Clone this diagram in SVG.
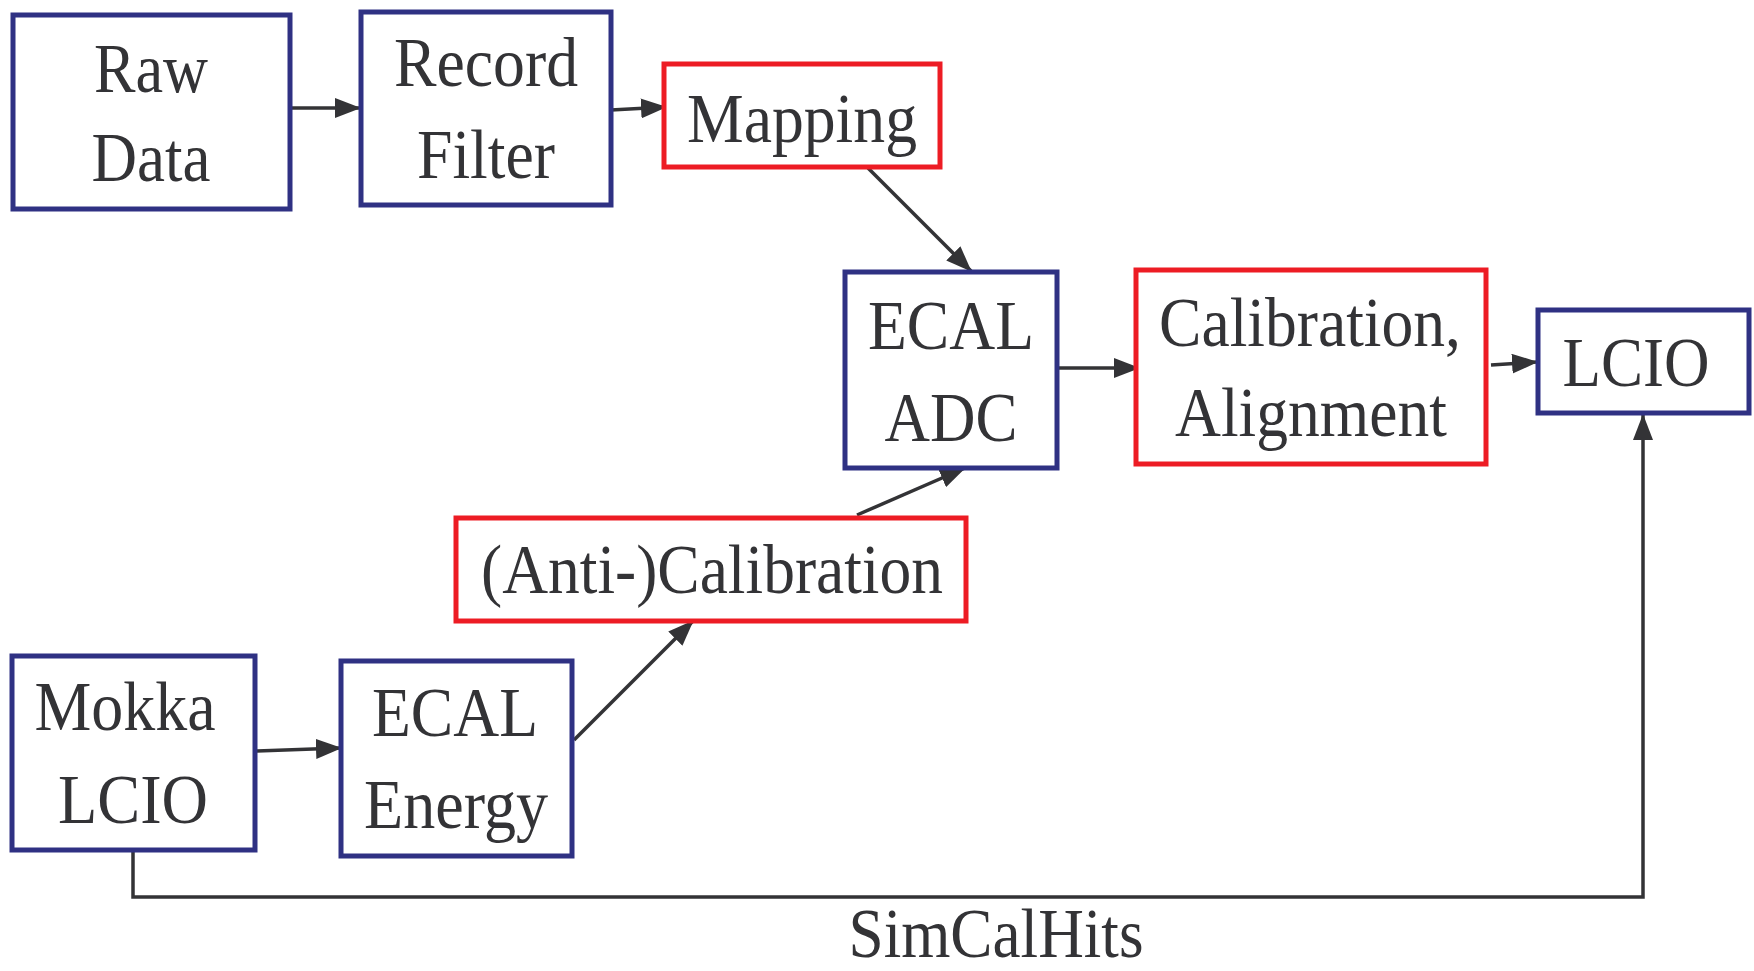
<svg xmlns="http://www.w3.org/2000/svg" width="1754" height="971" viewBox="0 0 1754 971">
<defs>
<style>
.b{fill:#fff;stroke:#2f3183;stroke-width:5}
.r{fill:#fff;stroke:#ed1c24;stroke-width:5}
.t{font-family:"Liberation Serif","Times New Roman",serif;font-size:70px;fill:#333336;text-anchor:middle}
.c{fill:none;stroke:#333336;stroke-width:3.5}
</style>
<marker id="ah" viewBox="0 0 26 20" refX="25" refY="10" markerWidth="26" markerHeight="20" markerUnits="userSpaceOnUse" orient="auto">
<path d="M0,0 L26,10 L0,20 Z" fill="#333336"/>
</marker>
</defs>
<rect width="1754" height="971" fill="#fff"/>
<g id="connectors">
<line class="c" x1="290" y1="108" x2="360" y2="108" marker-end="url(#ah)"/>
<line class="c" x1="611" y1="110" x2="666" y2="107" marker-end="url(#ah)"/>
<line class="c" x1="868" y1="168" x2="971" y2="271" marker-end="url(#ah)"/>
<line class="c" x1="1057" y1="368" x2="1139" y2="368" marker-end="url(#ah)"/>
<line class="c" x1="1491" y1="365" x2="1537" y2="362" marker-end="url(#ah)"/>
<line class="c" x1="857" y1="515" x2="965" y2="468" marker-end="url(#ah)"/>
<line class="c" x1="257" y1="751" x2="341" y2="748" marker-end="url(#ah)"/>
<line class="c" x1="574" y1="740" x2="693" y2="621" marker-end="url(#ah)"/>
<polyline class="c" points="133,850 133,897 1643,897 1643,415" marker-end="url(#ah)"/>
<text class="t" x="996" y="957" textLength="295" lengthAdjust="spacingAndGlyphs">SimCalHits</text>
</g>
<g id="raw-data">
<rect class="b" x="13" y="15" width="277" height="194"/>
<text class="t" x="151" y="92" textLength="114" lengthAdjust="spacingAndGlyphs">Raw</text>
<text class="t" x="151" y="181" textLength="119" lengthAdjust="spacingAndGlyphs">Data</text>
</g>
<g id="record-filter">
<rect class="b" x="361" y="12" width="250" height="193"/>
<text class="t" x="486" y="86" textLength="184" lengthAdjust="spacingAndGlyphs">Record</text>
<text class="t" x="486" y="178" textLength="138" lengthAdjust="spacingAndGlyphs">Filter</text>
</g>
<g id="mapping">
<rect class="r" x="664" y="64" width="276" height="103"/>
<text class="t" x="802" y="142" textLength="230" lengthAdjust="spacingAndGlyphs">Mapping</text>
</g>
<g id="ecal-adc">
<rect class="b" x="845" y="272" width="212" height="196"/>
<text class="t" x="951" y="349" textLength="166" lengthAdjust="spacingAndGlyphs">ECAL</text>
<text class="t" x="951" y="441" textLength="133" lengthAdjust="spacingAndGlyphs">ADC</text>
</g>
<g id="calibration-alignment">
<rect class="r" x="1136" y="270" width="350" height="194"/>
<text class="t" x="1310" y="346" textLength="302" lengthAdjust="spacingAndGlyphs">Calibration,</text>
<text class="t" x="1311" y="436" textLength="272" lengthAdjust="spacingAndGlyphs">Alignment</text>
</g>
<g id="lcio">
<rect class="b" x="1538" y="310" width="211" height="103"/>
<text class="t" x="1636" y="386" textLength="147" lengthAdjust="spacingAndGlyphs">LCIO</text>
</g>
<g id="anti-calibration">
<rect class="r" x="456" y="518" width="510" height="103"/>
<text class="t" x="712" y="593" textLength="462" lengthAdjust="spacingAndGlyphs">(Anti-)Calibration</text>
</g>
<g id="mokka-lcio">
<rect class="b" x="12" y="656" width="243" height="194"/>
<text class="t" x="125" y="730" textLength="181" lengthAdjust="spacingAndGlyphs">Mokka</text>
<text class="t" x="133" y="823" textLength="150" lengthAdjust="spacingAndGlyphs">LCIO</text>
</g>
<g id="ecal-energy">
<rect class="b" x="341" y="661" width="231" height="195"/>
<text class="t" x="455" y="736" textLength="166" lengthAdjust="spacingAndGlyphs">ECAL</text>
<text class="t" x="456" y="828" textLength="184" lengthAdjust="spacingAndGlyphs">Energy</text>
</g>
</svg>
